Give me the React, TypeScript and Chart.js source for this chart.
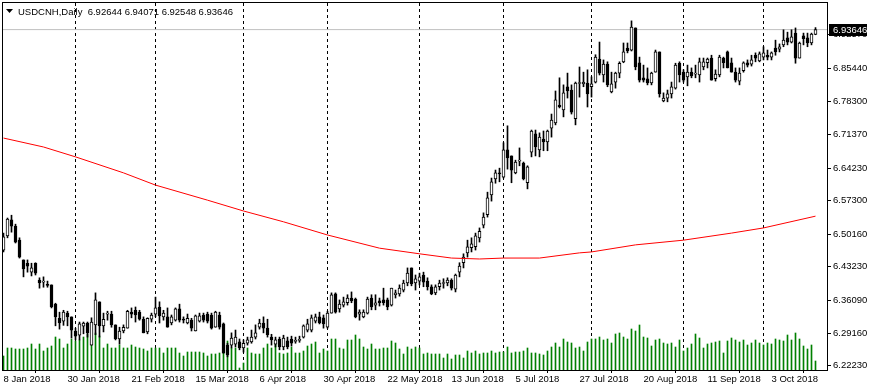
import React, { useEffect, useRef } from "react";
import { Chart, registerables } from "chart.js";

Chart.register(...registerables);

const FONT = '"Liberation Sans", Arial, sans-serif';
const SYMBOL = "USDCNH";
const PERIOD = "Daily";

// Daily OHLC, 8 Jan 2018 .. 18 Oct 2018 (bar index 0..203)
const opens = [
  6.468, 6.498, 6.532, 6.519, 6.489, 6.447, 6.44, 6.421, 6.44, 6.404,
  6.4, 6.394, 6.394, 6.353, 6.323, 6.317, 6.334, 6.326, 6.296, 6.287,
  6.306, 6.313, 6.266, 6.309, 6.358, 6.307, 6.332, 6.332, 6.309, 6.279,
  6.296, 6.302, 6.336, 6.34, 6.336, 6.321, 6.294, 6.321, 6.332, 6.347,
  6.326, 6.326, 6.313, 6.319, 6.343, 6.32, 6.313, 6.319, 6.296, 6.317,
  6.33, 6.332, 6.33, 6.304, 6.33, 6.311, 6.266, 6.266, 6.268, 6.273,
  6.26, 6.27, 6.273, 6.283, 6.304, 6.313, 6.302, 6.283, 6.268, 6.279,
  6.262, 6.275, 6.279, 6.274, 6.276, 6.283, 6.298, 6.298, 6.317, 6.326,
  6.324, 6.304, 6.334, 6.375, 6.343, 6.351, 6.356, 6.366, 6.364, 6.332,
  6.326, 6.334, 6.366, 6.351, 6.36, 6.362, 6.362, 6.351, 6.373, 6.375,
  6.383, 6.398, 6.43, 6.398, 6.402, 6.415, 6.402, 6.39, 6.377, 6.39,
  6.397, 6.398, 6.404, 6.385, 6.421, 6.441, 6.462, 6.473, 6.475, 6.494,
  6.521, 6.543, 6.585, 6.619, 6.632, 6.623, 6.681, 6.668, 6.632, 6.657,
  6.653, 6.611, 6.676, 6.715, 6.681, 6.704, 6.698, 6.727, 6.738, 6.776,
  6.766, 6.815, 6.808, 6.747, 6.822, 6.821, 6.823, 6.815, 6.825, 6.874,
  6.84, 6.863, 6.804, 6.825, 6.844, 6.868, 6.897, 6.893, 6.94, 6.866,
  6.834, 6.832, 6.823, 6.846, 6.889, 6.785, 6.791, 6.8, 6.812, 6.865,
  6.846, 6.836, 6.846, 6.842, 6.84, 6.857, 6.866, 6.876, 6.832, 6.84,
  6.876, 6.889, 6.866, 6.846, 6.827, 6.849, 6.866, 6.863, 6.882, 6.87,
  6.878, 6.882, 6.878, 6.897, 6.895, 6.904, 6.919, 6.91, 6.929, 6.876,
  6.923, 6.919, 6.908, 6.92644,
];
const highs = [
  6.504, 6.536, 6.542, 6.523, 6.494, 6.447, 6.447, 6.44, 6.441, 6.409,
  6.411, 6.402, 6.394, 6.355, 6.336, 6.34, 6.338, 6.326, 6.302, 6.315,
  6.315, 6.315, 6.324, 6.377, 6.358, 6.334, 6.338, 6.338, 6.309, 6.304,
  6.309, 6.34, 6.345, 6.347, 6.34, 6.326, 6.324, 6.334, 6.368, 6.358,
  6.34, 6.345, 6.33, 6.345, 6.353, 6.326, 6.332, 6.323, 6.33, 6.334,
  6.334, 6.336, 6.334, 6.338, 6.336, 6.313, 6.27, 6.292, 6.298, 6.279,
  6.277, 6.283, 6.298, 6.309, 6.321, 6.326, 6.321, 6.289, 6.283, 6.283,
  6.287, 6.283, 6.285, 6.283, 6.285, 6.309, 6.321, 6.33, 6.332, 6.336,
  6.33, 6.338, 6.377, 6.377, 6.362, 6.368, 6.373, 6.379, 6.366, 6.341,
  6.341, 6.368, 6.373, 6.373, 6.366, 6.387, 6.366, 6.387, 6.383, 6.394,
  6.404, 6.43, 6.43, 6.415, 6.419, 6.421, 6.409, 6.394, 6.394, 6.404,
  6.407, 6.409, 6.407, 6.417, 6.441, 6.46, 6.489, 6.494, 6.504, 6.515,
  6.547, 6.591, 6.621, 6.638, 6.642, 6.696, 6.732, 6.668, 6.659, 6.685,
  6.655, 6.647, 6.723, 6.723, 6.717, 6.721, 6.723, 6.757, 6.806, 6.834,
  6.819, 6.844, 6.819, 6.825, 6.857, 6.846, 6.851, 6.836, 6.883, 6.91,
  6.872, 6.868, 6.846, 6.846, 6.868, 6.908, 6.908, 6.955, 6.94, 6.878,
  6.861, 6.855, 6.846, 6.893, 6.889, 6.802, 6.808, 6.825, 6.865, 6.868,
  6.851, 6.861, 6.855, 6.861, 6.876, 6.876, 6.876, 6.882, 6.851, 6.882,
  6.878, 6.891, 6.876, 6.855, 6.855, 6.868, 6.872, 6.882, 6.887, 6.889,
  6.9, 6.893, 6.889, 6.914, 6.906, 6.936, 6.931, 6.936, 6.94, 6.91,
  6.929, 6.929, 6.929, 6.94071,
];
const lows = [
  6.464, 6.494, 6.506, 6.483, 6.451, 6.411, 6.421, 6.413, 6.415, 6.387,
  6.389, 6.389, 6.345, 6.307, 6.3, 6.308, 6.307, 6.281, 6.277, 6.277,
  6.29, 6.283, 6.266, 6.288, 6.283, 6.294, 6.319, 6.304, 6.277, 6.268,
  6.292, 6.302, 6.324, 6.315, 6.319, 6.292, 6.29, 6.315, 6.326, 6.313,
  6.319, 6.304, 6.309, 6.317, 6.315, 6.313, 6.311, 6.296, 6.296, 6.315,
  6.315, 6.313, 6.3, 6.304, 6.3, 6.249, 6.241, 6.26, 6.262, 6.256,
  6.251, 6.266, 6.27, 6.279, 6.3, 6.292, 6.283, 6.266, 6.262, 6.256,
  6.256, 6.258, 6.264, 6.27, 6.272, 6.281, 6.294, 6.294, 6.313, 6.311,
  6.302, 6.302, 6.334, 6.334, 6.336, 6.347, 6.351, 6.356, 6.324, 6.319,
  6.324, 6.332, 6.341, 6.341, 6.349, 6.351, 6.341, 6.349, 6.366, 6.37,
  6.379, 6.392, 6.392, 6.383, 6.394, 6.39, 6.383, 6.373, 6.373, 6.383,
  6.387, 6.392, 6.383, 6.379, 6.411, 6.43, 6.453, 6.464, 6.468, 6.485,
  6.515, 6.538, 6.572, 6.61, 6.613, 6.621, 6.64, 6.611, 6.63, 6.647,
  6.617, 6.598, 6.666, 6.668, 6.666, 6.679, 6.679, 6.708, 6.734, 6.77,
  6.751, 6.791, 6.757, 6.734, 6.793, 6.815, 6.772, 6.793, 6.823, 6.84,
  6.825, 6.815, 6.802, 6.812, 6.834, 6.866, 6.887, 6.891, 6.851, 6.825,
  6.825, 6.819, 6.819, 6.846, 6.793, 6.783, 6.783, 6.791, 6.81, 6.825,
  6.825, 6.817, 6.834, 6.834, 6.825, 6.851, 6.855, 6.829, 6.827, 6.836,
  6.855, 6.855, 6.846, 6.825, 6.819, 6.846, 6.857, 6.859, 6.868, 6.868,
  6.872, 6.872, 6.872, 6.882, 6.889, 6.9, 6.904, 6.908, 6.865, 6.876,
  6.904, 6.9, 6.904, 6.92548,
];
const closes = [
  6.496, 6.534, 6.519, 6.485, 6.453, 6.428, 6.434, 6.43, 6.419, 6.398,
  6.401, 6.393, 6.347, 6.326, 6.313, 6.336, 6.326, 6.298, 6.285, 6.311,
  6.313, 6.292, 6.315, 6.362, 6.307, 6.321, 6.333, 6.309, 6.279, 6.296,
  6.304, 6.338, 6.332, 6.33, 6.321, 6.292, 6.323, 6.33, 6.345, 6.328,
  6.334, 6.304, 6.326, 6.343, 6.319, 6.319, 6.323, 6.302, 6.328, 6.328,
  6.319, 6.317, 6.302, 6.336, 6.304, 6.249, 6.245, 6.281, 6.283, 6.26,
  6.27, 6.277, 6.283, 6.292, 6.313, 6.302, 6.288, 6.277, 6.277, 6.262,
  6.281, 6.262, 6.27, 6.275, 6.278, 6.307, 6.311, 6.324, 6.326, 6.313,
  6.311, 6.334, 6.373, 6.336, 6.353, 6.358, 6.366, 6.36, 6.326, 6.336,
  6.336, 6.364, 6.347, 6.356, 6.356, 6.356, 6.347, 6.387, 6.377, 6.387,
  6.398, 6.419, 6.396, 6.407, 6.411, 6.4, 6.39, 6.375, 6.39, 6.398,
  6.398, 6.404, 6.387, 6.415, 6.434, 6.453, 6.475, 6.481, 6.498, 6.508,
  6.538, 6.579, 6.613, 6.632, 6.63, 6.681, 6.664, 6.638, 6.655, 6.658,
  6.619, 6.645, 6.721, 6.687, 6.708, 6.698, 6.721, 6.744, 6.787, 6.772,
  6.802, 6.806, 6.761, 6.823, 6.824, 6.825, 6.8, 6.821, 6.878, 6.844,
  6.863, 6.819, 6.821, 6.844, 6.865, 6.889, 6.891, 6.942, 6.857, 6.829,
  6.829, 6.823, 6.844, 6.889, 6.8, 6.791, 6.8, 6.815, 6.861, 6.84,
  6.829, 6.846, 6.838, 6.843, 6.868, 6.868, 6.874, 6.829, 6.842, 6.878,
  6.866, 6.855, 6.846, 6.829, 6.844, 6.866, 6.861, 6.872, 6.876, 6.885,
  6.887, 6.878, 6.887, 6.889, 6.9, 6.914, 6.91, 6.921, 6.876, 6.908,
  6.917, 6.908, 6.927, 6.93646,
];
// tick volume (relative units)
const volumes = [
  14, 22, 22, 21, 21, 21, 22, 26, 21, 26,
  19, 22, 24, 33, 31, 22, 26, 31, 29, 30,
  33, 36, 27, 37, 34, 22, 26, 22, 22, 25,
  22, 22, 25, 23, 22, 21, 19, 22, 22, 22,
  17, 22, 22, 22, 17, 14, 18, 18, 18, 18,
  17, 14, 16, 16, 17, 29, 29, 22, 22, 2,
  7, 22, 17, 16, 16, 22, 26, 22, 26, 17,
  16, 17, 23, 17, 17, 19, 24, 26, 28, 17,
  21, 19, 31, 31, 22, 21, 30, 30, 35, 31,
  23, 21, 26, 21, 21, 22, 22, 29, 27, 21,
  16, 23, 21, 23, 22, 16, 17, 16, 16, 16,
  12, 16, 11, 15, 15, 12, 19, 17, 19, 16,
  17, 17, 19, 17, 18, 18, 23, 17, 18, 18,
  19, 22, 17, 17, 16, 15, 19, 23, 27, 23,
  31, 28, 27, 22, 23, 19, 28, 31, 31, 33,
  30, 31, 27, 36, 37, 33, 31, 41, 39, 45,
  33, 32, 24, 30, 31, 27, 26, 27, 23, 30,
  19, 22, 26, 36, 32, 22, 26, 27, 28, 29,
  17, 29, 32, 30, 28, 30, 25, 27, 30, 27,
  25, 27, 26, 31, 30, 29, 35, 30, 37, 31,
  24, 21, 25, 9,
];
// moving average read at selected bars
const maIdx = [0, 10, 18, 30, 38, 51, 60, 70, 81, 94, 104, 112, 119, 125, 134, 144, 147, 158, 170, 182, 190, 203];
const maVal = [6.706, 6.687, 6.666, 6.632, 6.606, 6.574, 6.551, 6.528, 6.5, 6.472, 6.46, 6.451, 6.449, 6.451, 6.451, 6.462, 6.464, 6.479, 6.489, 6.504, 6.515, 6.54];

const xTickIdx = [0, 16, 32, 48, 64, 80, 96, 112, 128, 144, 160, 176, 192];
const xTickLabels = [
  "8 Jan 2018", "30 Jan 2018", "21 Feb 2018", "15 Mar 2018", "6 Apr 2018",
  "30 Apr 2018", "22 May 2018", "13 Jun 2018", "5 Jul 2018", "27 Jul 2018",
  "20 Aug 2018", "11 Sep 2018", "3 Oct 2018",
];
const monthStartIdx = [18, 38, 60, 81, 104, 125, 147, 170, 190];
const yTicks = [6.2223, 6.2916, 6.3609, 6.4323, 6.5016, 6.573, 6.6423, 6.7137, 6.783, 6.8544, 6.9257];

const X_MIN = -0.375;
const X_MAX = 205.875;
const Y_MIN = 6.2131;
const Y_MAX = 6.9951;
const VOL_MAX = 368;

export default function App() {
  const ref = useRef<HTMLCanvasElement>(null);

  useEffect(() => {
    document.body.style.margin = "0";
    const n = closes.length;
    const idx = closes.map((_, i) => i);
    const lastClose = closes[n - 1];

    const decor = {
      id: "decor",
      beforeDatasetsDraw(chart: any) {
        const { ctx, chartArea, scales } = chart;
        ctx.save();
        ctx.strokeStyle = "#000";
        ctx.lineWidth = 1;
        ctx.setLineDash([3, 3]);
        monthStartIdx.forEach((v) => {
          const px = Math.floor(scales.x.getPixelForValue(v)) + 0.5;
          ctx.beginPath();
          ctx.moveTo(px, chartArea.top + 1);
          ctx.lineTo(px, chartArea.bottom);
          ctx.stroke();
        });
        ctx.restore();
      },
      afterDraw(chart: any) {
        const { ctx, chartArea, scales } = chart;
        const { left, top, right, bottom } = chartArea;
        ctx.save();
        ctx.strokeStyle = "#000";
        ctx.lineWidth = 1;
        ctx.strokeRect(left + 0.5, top + 0.5, right - left, bottom - top);
        // header
        ctx.fillStyle = "#000";
        ctx.beginPath();
        ctx.moveTo(6, 9);
        ctx.lineTo(13, 9);
        ctx.lineTo(9.5, 13);
        ctx.closePath();
        ctx.fill();
        ctx.font = `9.5px ${FONT}`;
        ctx.textBaseline = "alphabetic";
        ctx.textAlign = "left";
        const hdr = `${SYMBOL},${PERIOD}  ${opens[n - 1].toFixed(5)} ${highs[n - 1].toFixed(5)} ${lows[n - 1].toFixed(5)} ${closes[n - 1].toFixed(5)}`;
        ctx.fillText(hdr, 18, 15);
        // current price box
        const y = scales.y.getPixelForValue(lastClose);
        ctx.fillStyle = "#000";
        ctx.fillRect(right + 2, Math.round(y) - 6, 38, 12);
        ctx.fillStyle = "#fff";
        ctx.textBaseline = "middle";
        ctx.fillText(lastClose.toFixed(5), right + 6, Math.round(y) + 0.5);
        ctx.restore();
      },
    };

    const chart = new Chart(ref.current as HTMLCanvasElement, {
      type: "bar",
      data: {
        datasets: [
          {
            type: "line",
            label: "MA",
            data: maIdx.map((x, k) => ({ x, y: maVal[k] })),
            borderColor: "#ff0000",
            borderWidth: 1,
            pointRadius: 0,
            tension: 0,
            order: 1,
            xAxisID: "x",
            yAxisID: "y",
          } as any,
          {
            type: "bar",
            label: "body",
            data: idx.map((i) => ({ x: i, y: [opens[i], closes[i]] })),
            backgroundColor: idx.map((i) => (closes[i] >= opens[i] ? "#ffffff" : "#000000")),
            borderColor: "#000000",
            borderWidth: 1,
            borderSkipped: false,
            barThickness: 3,
            minBarLength: 1,
            grouped: false,
            order: 2,
            xAxisID: "x",
            yAxisID: "y",
          } as any,
          {
            type: "bar",
            label: "wick",
            data: idx.map((i) => ({ x: i, y: [lows[i], highs[i]] })),
            backgroundColor: "#000000",
            borderWidth: 0,
            barThickness: 1,
            grouped: false,
            order: 3,
            xAxisID: "x",
            yAxisID: "y",
          } as any,
          {
            type: "bar",
            label: "volume",
            data: idx.map((i) => ({ x: i, y: volumes[i] })),
            backgroundColor: "#008000",
            borderWidth: 0,
            barThickness: 1,
            grouped: false,
            order: 5,
            xAxisID: "x",
            yAxisID: "yv",
          } as any,
          {
            type: "line",
            label: "bid",
            data: [
              { x: X_MIN, y: lastClose },
              { x: X_MAX, y: lastClose },
            ],
            borderColor: "#c0c0c0",
            borderWidth: 1,
            pointRadius: 0,
            order: 6,
            xAxisID: "x",
            yAxisID: "y",
          } as any,
        ],
      },
      options: {
        responsive: false,
        maintainAspectRatio: false,
        animation: false,
        devicePixelRatio: 1,
        events: [],
        layout: { padding: { left: 2, top: 2, right: 0, bottom: 0 } },
        plugins: { legend: { display: false }, tooltip: { enabled: false } },
        scales: {
          x: {
            type: "linear",
            position: "bottom",
            min: X_MIN,
            max: X_MAX,
            offset: false,
            afterBuildTicks: (s: any) => {
              s.ticks = xTickIdx.map((v) => ({ value: v }));
            },
            afterFit: (s: any) => {
              s.height = 20;
              s.paddingLeft = 0;
              s.paddingRight = 0;
            },
            ticks: {
              align: "start",
              maxRotation: 0,
              minRotation: 0,
              autoSkip: false,
              padding: 1,
              color: "#000",
              font: { family: FONT, size: 9.5 },
              callback: (_v: any, i: number) => xTickLabels[i],
            },
            grid: { drawOnChartArea: false, drawTicks: true, tickLength: 3, color: "#000" },
            border: { display: true, color: "#000" },
          },
          y: {
            type: "linear",
            position: "right",
            min: Y_MIN,
            max: Y_MAX,
            afterBuildTicks: (s: any) => {
              s.ticks = yTicks.map((v) => ({ value: v }));
            },
            afterFit: (s: any) => {
              s.width = 43;
              s.paddingTop = 0;
              s.paddingBottom = 0;
            },
            ticks: {
              padding: 2,
              color: "#000",
              font: { family: FONT, size: 9.5 },
              callback: (v: any) => Number(v).toFixed(5),
            },
            grid: { drawOnChartArea: false, drawTicks: true, tickLength: 4, color: "#000" },
            border: { display: true, color: "#000" },
          },
          yv: {
            type: "linear",
            display: false,
            min: 0,
            max: VOL_MAX,
          },
        },
      } as any,
      plugins: [decor],
    });
    return () => chart.destroy();
  }, []);

  return <canvas ref={ref} width={870} height={390} style={{ display: "block" }} />;
}
